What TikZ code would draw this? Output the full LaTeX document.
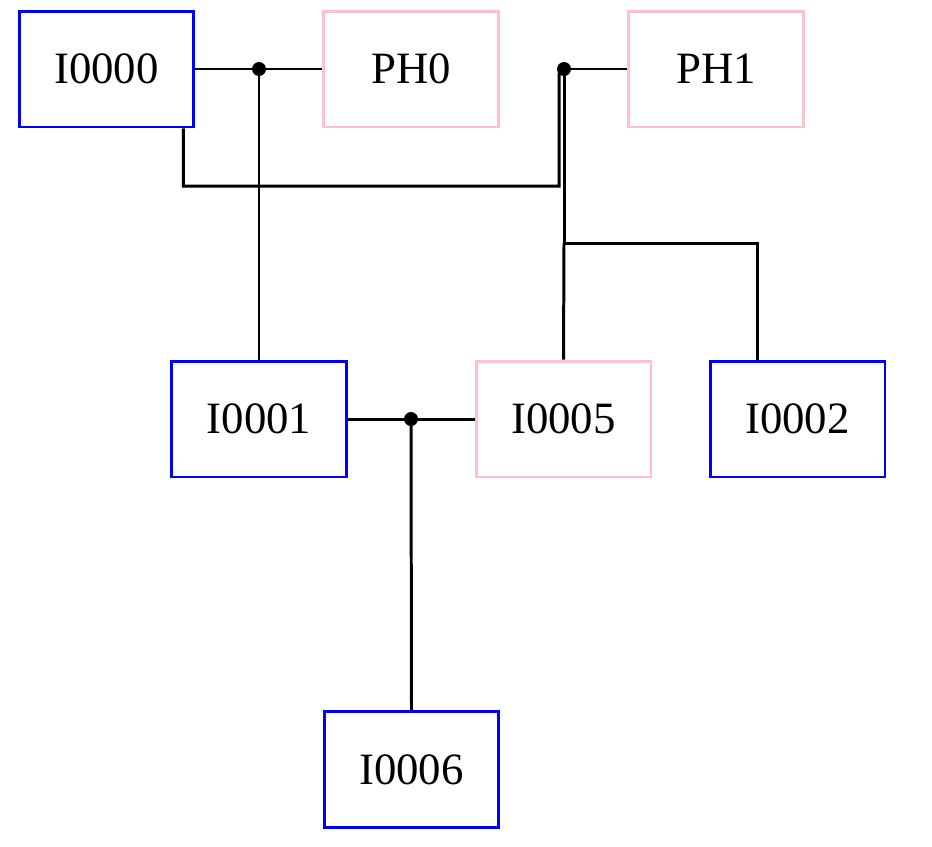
\documentclass[tikz,border=0pt]{standalone}
\usepackage{fontspec}
\setmainfont{Liberation Serif}
\usepackage{xcolor}
\definecolor{vblack}{HTML}{000000}
\definecolor{vblue}{HTML}{0000FF}
\definecolor{vpink}{HTML}{FFC0CB}

\tikzset{
	box/.style={draw, line width=1.7pt, minimum width=3.5cm, minimum height=2.32cm, inner sep=0pt, font=\fontsize{25.5}{30}\selectfont},
	bluebox/.style={box, draw=vblue},
	pinkbox/.style={box, draw=vpink},
	link/.style={color=vblack, line width=1.7pt},
}

\begin{document}
\begin{tikzpicture}[x=0.02cm, y=-0.02cm]
		\useasboundingbox (0,0) rectangle (932,846);
		\node[bluebox] (I0000) at (106.5,69) {I0000};
		\node[pinkbox] (PH0) at (411,69) {PH0};
		\node[pinkbox] (PH1) at (716,69) {PH1};
		\node[bluebox] (I0001) at (259,419) {I0001};
		\node[pinkbox] (I0005) at (563.5,419) {I0005};
		\node[bluebox] (I0002) at (797.5,419) {I0002};
		\node[bluebox] (I0006) at (411.5,769.5) {I0006};
		\coordinate (D0) at (259,69);
		\coordinate (D1) at (564,69);
		\coordinate (D2) at (411,419);
		\coordinate (M0) at (559,186);
		\coordinate (M1) at (564,243);
		\draw[link] (I0000.east) -- (D0) -- (PH0.west);
		\draw[link] (D0) -- (I0001.north);
		\draw[link] (D1) -- (PH1.west);
		\draw[link] ([xshift=-0.24cm]I0000.south east) |- (M0) -- ([xshift=-0.1cm,yshift=-0.08cm]D1);
		\draw[link] (D1) -- (M1) -| ([xshift=-0.81cm]I0002.north);
		\draw[link] (I0005.north) -- (M1);
		\draw[link] (I0001.east) -- (D2) -- (I0005.west);
		\draw[link] (D2) -- (I0006.north);
		\fill[color=vblack] (D0) circle (0.14cm);
		\fill[color=vblack] (D1) circle (0.14cm);
		\fill[color=vblack] (D2) circle (0.14cm);
	\end{tikzpicture}
\end{document}
